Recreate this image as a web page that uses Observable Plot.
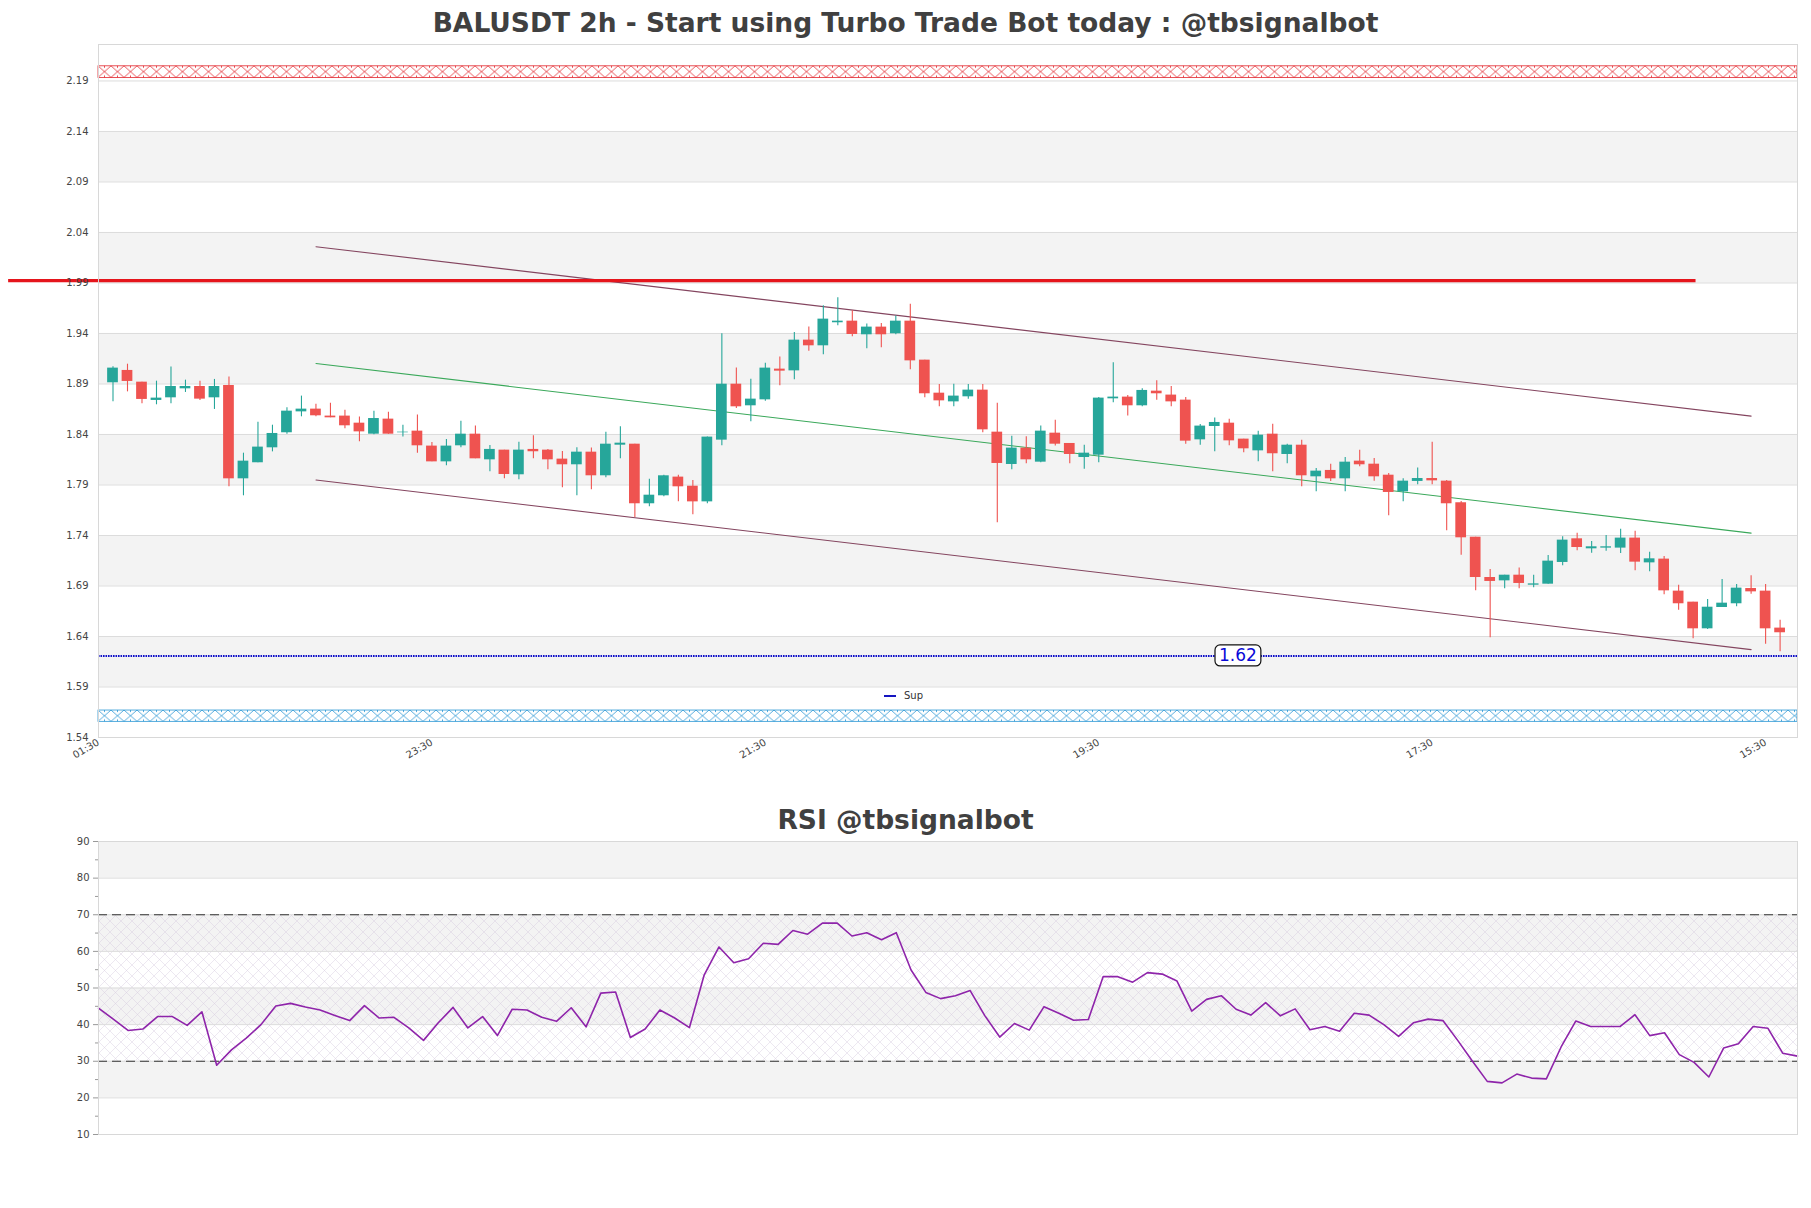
<!DOCTYPE html>
<html><head><meta charset="utf-8">
<script src="https://cdn.jsdelivr.net/npm/d3@7"></script>
<script src="https://cdn.jsdelivr.net/npm/@observablehq/plot@0.6"></script>
<style>
body{margin:0;background:#fff;}
#wrap{position:relative;width:1811px;height:1208px;font-family:"DejaVu Sans",sans-serif;overflow:hidden;}
.title{position:absolute;left:0;width:1811px;text-align:center;font-weight:bold;color:#404040;font-size:26.5px;line-height:1;white-space:nowrap;}
#legend{position:absolute;left:884px;top:690px;font-size:10px;color:#333;display:flex;align-items:center;gap:8px;}
#legend span.k{display:inline-block;width:12px;height:2px;background:#1515c0;}
</style></head><body><div id="wrap"></div>
<script>
// ---------------- data ----------------
const mainTitle = "BALUSDT 2h - Start using Turbo Trade Bot today : @tbsignalbot";
const rsiTitle = "RSI @tbsignalbot";
const legendLabel = "Sup";

const open = [1.8912,1.9034,1.8918,1.8737,1.8763,1.8852,1.8875,1.8763,1.8885,1.7961,
1.8120,1.8268,1.8417,1.8624,1.8651,1.8582,1.8582,1.8512,1.8403,1.8552,
1.8417,1.8433,1.8285,1.8129,1.8288,1.8403,1.8149,1.8245,1.8001,1.8252,
1.8245,1.8156,1.8100,1.8225,1.7991,1.8294,1.8304,1.7714,1.7793,1.7978,
1.7888,1.7733,1.8344,1.8898,1.8684,1.8743,1.9047,1.9030,1.9334,1.9278,
1.9506,1.9522,1.9387,1.9463,1.9397,1.9522,1.9136,1.8809,1.8723,1.8773,
1.8839,1.8423,1.8103,1.8265,1.8126,1.8413,1.8311,1.8172,1.8195,1.8753,
1.8770,1.8684,1.8829,1.8790,1.8740,1.8347,1.8479,1.8512,1.8354,1.8238,
1.8403,1.8202,1.8294,1.7981,1.8044,1.7961,1.8136,1.8106,1.7997,1.7832,
1.7935,1.7964,1.7938,1.7724,1.7383,1.6984,1.6951,1.7007,1.6908,1.6918,
1.7133,1.7367,1.7268,1.7275,1.7275,1.7374,1.7129,1.7166,1.6849,1.6740,
1.6476,1.6687,1.6724,1.6875,1.6849,1.6483];
const close = [1.9057,1.8925,1.8747,1.8760,1.8875,1.8875,1.8750,1.8875,1.7961,1.8136,
1.8275,1.8410,1.8631,1.8651,1.8585,1.8565,1.8486,1.8426,1.8558,1.8403,
1.8423,1.8288,1.8129,1.8285,1.8403,1.8159,1.8252,1.8004,1.8245,1.8229,
1.8149,1.8100,1.8225,1.7991,1.8304,1.8314,1.7714,1.7799,1.7991,1.7882,
1.7733,1.8374,1.8898,1.8674,1.8750,1.9057,1.9027,1.9334,1.9278,1.9542,
1.9522,1.9390,1.9463,1.9387,1.9522,1.9129,1.8803,1.8733,1.8780,1.8839,
1.8446,1.8113,1.8265,1.8149,1.8433,1.8304,1.8202,1.8215,1.8760,1.8770,
1.8684,1.8836,1.8803,1.8723,1.8334,1.8483,1.8519,1.8337,1.8258,1.8393,
1.8209,1.8294,1.7991,1.8037,1.7961,1.8126,1.8100,1.7981,1.7826,1.7938,
1.7964,1.7941,1.7714,1.7377,1.6984,1.6945,1.7007,1.6925,1.6921,1.7146,
1.7354,1.7281,1.7288,1.7288,1.7374,1.7136,1.7169,1.6852,1.6724,1.6476,
1.6690,1.6730,1.6879,1.6842,1.6476,1.6437];
const high = [1.9070,1.9096,1.8918,1.8928,1.9067,1.8938,1.8928,1.8945,1.8968,1.8215,
1.8522,1.8492,1.8664,1.8780,1.8700,1.8710,1.8641,1.8572,1.8631,1.8621,
1.8492,1.8592,1.8321,1.8351,1.8532,1.8483,1.8291,1.8245,1.8324,1.8387,
1.8252,1.8232,1.8268,1.8265,1.8423,1.8476,1.8304,1.7958,1.7997,1.7997,
1.7945,1.8374,1.9397,1.9057,1.8948,1.9106,1.9166,1.9410,1.9463,1.9674,
1.9753,1.9624,1.9493,1.9499,1.9572,1.9690,1.9136,1.8895,1.8898,1.8895,
1.8895,1.8710,1.8383,1.8377,1.8483,1.8542,1.8311,1.8294,1.8766,1.9110,
1.8786,1.8852,1.8931,1.8875,1.8766,1.8499,1.8562,1.8552,1.8354,1.8433,
1.8502,1.8304,1.8344,1.8063,1.8106,1.8172,1.8245,1.8162,1.8014,1.7961,
1.8067,1.8324,1.7945,1.7737,1.7383,1.7063,1.7007,1.7077,1.7007,1.7202,
1.7387,1.7423,1.7341,1.7400,1.7463,1.7443,1.7235,1.7192,1.6908,1.6740,
1.6767,1.6965,1.6915,1.7001,1.6915,1.6562];
const low = [1.8723,1.8822,1.8704,1.8694,1.8704,1.8816,1.8737,1.8648,1.7882,1.7793,
1.8120,1.8228,1.8403,1.8575,1.8575,1.8565,1.8456,1.8327,1.8397,1.8403,
1.8374,1.8215,1.8129,1.8090,1.8268,1.8159,1.8030,1.7961,1.7951,1.8159,
1.8050,1.7872,1.7793,1.7852,1.7971,1.8159,1.7578,1.7684,1.7783,1.7733,
1.7605,1.7714,1.8288,1.8657,1.8525,1.8730,1.8882,1.8941,1.9225,1.9189,
1.9476,1.9367,1.9248,1.9258,1.9387,1.9040,1.8763,1.8674,1.8674,1.8750,
1.8417,1.7525,1.8050,1.8110,1.8120,1.8285,1.8110,1.8057,1.8120,1.8714,
1.8582,1.8674,1.8740,1.8674,1.8304,1.8294,1.8228,1.8288,1.8219,1.8129,
1.8030,1.8110,1.7882,1.7832,1.7935,1.7832,1.8080,1.7938,1.7595,1.7733,
1.7902,1.7902,1.7446,1.7205,1.6852,1.6387,1.6872,1.6872,1.6882,1.6918,
1.7100,1.7248,1.7225,1.7245,1.7222,1.7050,1.7040,1.6813,1.6661,1.6377,
1.6469,1.6687,1.6694,1.6819,1.6324,1.6248];

const rsi = [44.5,41.5,38.4,38.8,42.2,42.2,39.8,43.5,28.9,33.1,
36.3,40.0,45.1,45.8,44.8,44.0,42.5,41.1,45.2,41.8,
42.0,39.1,35.7,40.5,44.7,39.1,42.2,37.0,44.2,44.0,
42.0,40.9,44.6,39.4,48.6,48.9,36.5,38.8,44.0,41.8,
39.2,53.6,61.2,56.9,58.0,62.2,61.9,65.7,64.7,67.7,
67.7,64.2,65.1,63.2,65.1,54.9,48.8,47.1,47.9,49.3,
42.4,36.6,40.3,38.5,44.9,43.1,41.2,41.4,53.1,53.1,
51.6,54.2,53.8,51.9,43.7,46.9,47.9,44.2,42.6,46.0,
42.4,44.3,38.6,39.5,38.2,43.1,42.6,40.0,36.8,40.5,
41.5,41.1,35.7,30.0,24.5,24.1,26.5,25.4,25.2,33.9,
41.0,39.5,39.5,39.5,42.7,37.0,37.8,31.8,29.7,25.7,
33.6,34.8,39.5,39.0,32.2,31.4];

const xTickIndex = [0, 23, 46, 69, 92, 115];
const xTickLabels = ["01:30", "23:30", "21:30", "19:30", "17:30", "15:30"];
const priceTicks = [1.54,1.59,1.64,1.69,1.74,1.79,1.84,1.89,1.94,1.99,2.04,2.09,2.14,2.19];
const priceBandLo = [1.59,1.69,1.79,1.89,1.99,2.09];
const priceBandHi = [1.64,1.74,1.84,1.94,2.04,2.14];
const priceDomain = [1.54, 2.2261];
const slotDomain = [0, 117.2];

const resistZone = [2.193, 2.2045];
const supportZone = [1.5555, 1.5667];
const resistLevel = 1.9923, resistFrom = -6.2, resistTo = 110.2;
const supLevel = 1.6207, supLabelSlot = 78.6;

const channelSlots = [15, 114];
const channelUpper = [2.0259, 1.8582];
const channelMid = [1.9103, 1.7423];
const channelLower = [1.7949, 1.6270];

const rsiTicks = [10,20,30,40,50,60,70,80,90];
const rsiMinor = [15,25,35,45,55,65,75,85];
const rsiBandLo = [20,40,60,80];
const rsiBandHi = [30,50,70,90];
const rsiLevels = [30, 70];

// ---------------- build ----------------
const UP = "#26a69a", DOWN = "#ef5350";
const candles = open.map((o, k) => ({slot: k + 1, o, c: close[k], h: high[k], l: low[k]}));
const mainBands = priceBandLo.map((lo, k) => ({lo, hi: priceBandHi[k]}));
const channels = [
  {name: "upper", vals: channelUpper, color: "#84455f"},
  {name: "mid", vals: channelMid, color: "#3aa85a"},
  {name: "lower", vals: channelLower, color: "#84455f"}
].flatMap(ch => channelSlots.map((s, k) => ({name: ch.name, slot: s, v: ch.vals[k], color: ch.color})));

const wrap = document.getElementById("wrap");
const baseStyle = {fontFamily: '"DejaVu Sans", sans-serif', fontSize: "10px", color: "#444", background: "transparent", overflow: "visible"};

const t1 = document.createElement("div");
t1.className = "title"; t1.style.top = "10px"; t1.textContent = mainTitle; wrap.appendChild(t1);

const mainPlot = Plot.plot({
  width: 1811, height: 775,
  marginLeft: 98, marginRight: 14, marginTop: 44, marginBottom: 38,
  style: baseStyle,
  x: {domain: slotDomain, axis: null},
  y: {domain: priceDomain, axis: null},
  marks: [
    Plot.rect(mainBands, {y1: "lo", y2: "hi", fill: "#f3f3f3"}),
    Plot.ruleY(priceTicks, {stroke: "#dcdcdc", strokeWidth: 1}),
    Plot.rect([{lo: resistZone[0], hi: resistZone[1]}], {y1: "lo", y2: "hi", fill: "url(#hatchRed)", stroke: "#e3262d", strokeWidth: 0.8}),
    Plot.rect([{lo: supportZone[0], hi: supportZone[1]}], {y1: "lo", y2: "hi", fill: "url(#hatchBlue)", stroke: "#2a97d4", strokeWidth: 0.8}),
    Plot.line(channels, {x: "slot", y: "v", z: "name", stroke: "color", strokeWidth: 1.1}),
    Plot.ruleY([{y: supLevel}], {y: "y", stroke: "#1010c8", strokeWidth: 2.2, strokeDasharray: "1.6,0.9"}),
    Plot.ruleX(candles, {x: "slot", y1: "l", y2: "h", stroke: d => d.c >= d.o ? UP : DOWN, strokeWidth: 1.1}),
    Plot.rect(candles, {x1: d => d.slot - 0.37, x2: d => d.slot + 0.37, y1: "o", y2: "c", fill: d => d.c >= d.o ? UP : DOWN}),
    Plot.ruleY([{y: resistLevel, a: resistFrom, b: resistTo}], {y: "y", x1: "a", x2: "b", stroke: "#e5151c", strokeWidth: 3.4}),
    Plot.text([{slot: supLabelSlot, y: supLevel, label: supLevel.toFixed(2)}], {x: "slot", y: "y", text: "label", fill: "#0a0ad8", fontSize: 17}),
    Plot.axisY({ticks: priceTicks, tickSize: 0, tickPadding: 10, tickFormat: d => d.toFixed(2), fontSize: 10}),
    Plot.axisX({ticks: xTickIndex, tickSize: 0, tickPadding: 4, tickRotate: -30, tickFormat: d => xTickLabels[xTickIndex.indexOf(d)], fontSize: 10}),
    Plot.frame({stroke: "#d8d8d8"})
  ]
});
mainPlot.style.position = "absolute"; mainPlot.style.left = "0px"; mainPlot.style.top = "0px";
wrap.appendChild(mainPlot);

const NS = "http://www.w3.org/2000/svg";
function addDefs(svg, html) {
  const defs = document.createElementNS(NS, "defs");
  defs.innerHTML = html;
  svg.insertBefore(defs, svg.firstChild);
}
{
  const ys = mainPlot.scale("y");
  const rTop = ys.apply(resistZone[1]), rBot = ys.apply(resistZone[0]);
  const bTop = ys.apply(supportZone[1]), bBot = ys.apply(supportZone[0]);
  const rh = rBot - rTop, bh = bBot - bTop, w = 13;
  addDefs(mainPlot,
    `<pattern id="hatchRed" patternUnits="userSpaceOnUse" x="98" y="${rTop}" width="${w}" height="${rh}">
       <rect width="${w}" height="${rh}" fill="#fff"/>
       <path d="M0,0L${w},${rh}M${w},0L0,${rh}M${w/2},0V2M${w/2},${rh}V${rh-2}" stroke="#e3262d" stroke-width="0.8" fill="none"/>
     </pattern>
     <pattern id="hatchBlue" patternUnits="userSpaceOnUse" x="98" y="${bTop}" width="${w}" height="${bh}">
       <rect width="${w}" height="${bh}" fill="#fff"/>
       <path d="M0,0L${w},${bh}M${w},0L0,${bh}M${w/2},0V2M${w/2},${bh}V${bh-2}" stroke="#2a97d4" stroke-width="0.8" fill="none"/>
     </pattern>`);
  const lbl = supLevel.toFixed(2);
  const t = [...mainPlot.querySelectorAll("text")].find(e => e.textContent === lbl && e.getAttribute("font-size") == "17");
  const tt = t || [...mainPlot.querySelectorAll("text")].filter(e => e.textContent === lbl).pop();
  if (tt) {
    const bb = tt.getBBox();
    const r = document.createElementNS(NS, "rect");
    r.setAttribute("x", bb.x - 4); r.setAttribute("y", bb.y - 0.5);
    r.setAttribute("width", bb.width + 8); r.setAttribute("height", bb.height + 1);
    r.setAttribute("rx", 5); r.setAttribute("fill", "#fff"); r.setAttribute("stroke", "#111"); r.setAttribute("stroke-width", 1.2);
    const tf = tt.getAttribute("transform");
    if (tf) r.setAttribute("transform", tf);
    tt.parentNode.insertBefore(r, tt);
  }
}

const leg = document.createElement("div");
leg.id = "legend";
leg.innerHTML = `<span class="k"></span><span>${legendLabel}</span>`;
wrap.appendChild(leg);

const t2 = document.createElement("div");
t2.className = "title"; t2.style.top = "807px"; t2.textContent = rsiTitle; wrap.appendChild(t2);

const rsiPlot = Plot.plot({
  width: 1811, height: 360,
  marginLeft: 98, marginRight: 14, marginTop: 41, marginBottom: 26,
  style: baseStyle,
  x: {domain: [0, rsi.length - 1], axis: null},
  y: {domain: [10, 90], axis: null},
  marks: [
    Plot.rect(rsiBandLo.map((lo, k) => ({lo, hi: rsiBandHi[k]})), {y1: "lo", y2: "hi", fill: "#f3f3f3"}),
    Plot.rect([{lo: rsiLevels[0], hi: rsiLevels[1]}], {y1: "lo", y2: "hi", fill: "url(#hatchRsi)"}),
    Plot.ruleY(rsiTicks, {stroke: "#dcdcdc"}),
    Plot.ruleY(rsiLevels, {stroke: "#333", strokeWidth: 1.2, strokeDasharray: "9,5"}),
    Plot.line(rsi.map((v, k) => ({k, v})), {x: "k", y: "v", stroke: "#8e24aa", strokeWidth: 1.6}),
    Plot.axisY({ticks: rsiTicks, tickSize: 5, tickPadding: 4, stroke: "#999", fontSize: 10}),
    Plot.axisY({ticks: rsiMinor, tickSize: 3, tickFormat: () => "", stroke: "#999"}),
    Plot.frame({stroke: "#d8d8d8"})
  ]
});
rsiPlot.style.position = "absolute"; rsiPlot.style.left = "0px"; rsiPlot.style.top = "800px";
wrap.appendChild(rsiPlot);
addDefs(rsiPlot,
  `<pattern id="hatchRsi" patternUnits="userSpaceOnUse" width="11" height="11">
     <path d="M0,0L11,11M11,0L0,11" stroke="#d6cce0" stroke-width="0.6" fill="none" opacity="0.75"/>
   </pattern>`);
</script>
</body></html>
